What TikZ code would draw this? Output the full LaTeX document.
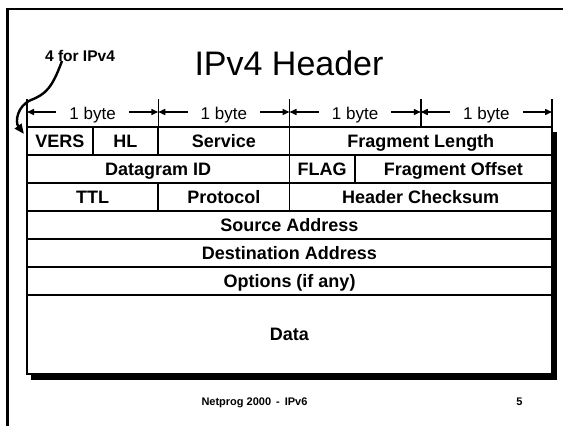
\documentclass[tikz,border=0pt]{standalone}
\usepackage{fontspec}
\setmainfont{Liberation Sans}
\usetikzlibrary{arrows.meta}
\begin{document}
\begin{tikzpicture}[x=1pt,y=-1pt,
  cell/.style={draw, line width=1.8pt, fill=white, inner sep=0pt, outer sep=0pt,
    minimum height=28pt, text height=12.9pt, text depth=0pt,
    font=\fontsize{18}{20}\selectfont\bfseries},
  tickline/.style={line width=1.5pt},
  dimarrow/.style={line width=1.5pt, -{Triangle[length=7pt,width=6pt]}},
  bytelbl/.style={font=\fontsize{17}{19}\selectfont, inner xsep=13pt, inner ysep=0pt},
  footfont/.style={font=\fontsize{11}{13}\selectfont\bfseries}]
\useasboundingbox (0,0) rectangle (563,426);
\clip (0,0) rectangle (563,426);

% slide frame
\draw[line width=2.4pt] (7.5,9) rectangle (620,470);

% title
\node[anchor=base, font=\fontsize{34}{40}\selectfont] (title) at (289,75) {IPv4 Header};

% drop shadow of the header table
\fill (31,132) rectangle (557,380);

% row 1
\node[cell, minimum width=65.625pt]  (vers)    at (59.8125,141)  {VERS};
\node[cell, minimum width=65.625pt]  (hl)      at (125.4375,141) {HL};
\node[cell, minimum width=131.25pt]  (service) at (223.875,141)  {Service};
\node[cell, minimum width=262.5pt]   (fraglen) at (420.75,141)   {Fragment Length};
% row 2
\node[cell, minimum width=262.5pt]   (dgid)    at (158.25,169)   {Datagram ID};
\node[cell, minimum width=65.375pt]  (flag)    at (322.1875,169) {FLAG};
\node[cell, minimum width=197.125pt] (fragoff) at (453.4375,169) {Fragment Offset};
% row 3
\node[cell, minimum width=131.25pt]  (ttl)     at (92.625,197)   {TTL};
\node[cell, minimum width=131.25pt]  (proto)   at (223.875,197)  {Protocol};
\node[cell, minimum width=262.5pt]   (cksum)   at (420.75,197)   {Header Checksum};
% full-width rows
\node[cell, minimum width=525pt]     (src)     at (289.5,225)    {Source Address};
\node[cell, minimum width=525pt]     (dst)     at (289.5,253)    {Destination Address};
\node[cell, minimum width=525pt]     (opt)     at (289.5,281)    {Options (if any)};
\node[cell, minimum width=525pt, minimum height=79pt] (data) at (289.5,334.5) {Data};

% byte ruler above the table
\coordinate (t0) at (27,99);
\coordinate (t1) at (158.25,99);
\coordinate (t2) at (289.5,99);
\coordinate (t3) at (420.75,99);
\coordinate (t4) at (552,99);
\draw[tickline] (t0) -- (vers.north west);
\draw[tickline] (t1) -- (service.north west);
\draw[tickline] (t2) -- (fraglen.north west);
\draw[tickline] (t3) -- (fraglen.north);
\draw[tickline] (t4) -- (fraglen.north east);

\coordinate (ya) at (0,112);
\node[bytelbl, anchor=base] (by1) at (92.6,119)  {1 byte};
\node[bytelbl, anchor=base] (by2) at (223.9,119) {1 byte};
\node[bytelbl, anchor=base] (by3) at (355.1,119) {1 byte};
\node[bytelbl, anchor=base] (by4) at (486.4,119) {1 byte};
\foreach \b/\l/\r in {by1/t0/t1, by2/t1/t2, by3/t2/t3, by4/t3/t4}{
  \draw[dimarrow] (\b.west |- ya) -- (\l |- ya);
  \draw[dimarrow] (\b.east |- ya) -- (\r |- ya);
}

% version note with curved pointer
\node[anchor=base, font=\fontsize{15.5}{18}\selectfont\bfseries] (ipv) at (80,61) {4 for IPv4};
\coordinate (ipvtail) at ([xshift=-18pt]ipv.base);
\coordinate (ipvtip) at ([xshift=-3pt,yshift=7pt]vers.west);
\draw[line width=2.4pt, -{Triangle[length=10pt,width=8pt]}]
  (ipvtail) .. controls (52,88) and (46,94) .. (31,100)
            .. controls (17,106) and (15,122) .. (ipvtip);

% footer
\node[footfont, anchor=base] (foot) at (254.5,405) {Netprog 2000\hspace{5pt}-\hspace{5pt}IPv6};
\node[footfont, anchor=base] (page) at (519.5,405) {5};
\end{tikzpicture}
\end{document}
